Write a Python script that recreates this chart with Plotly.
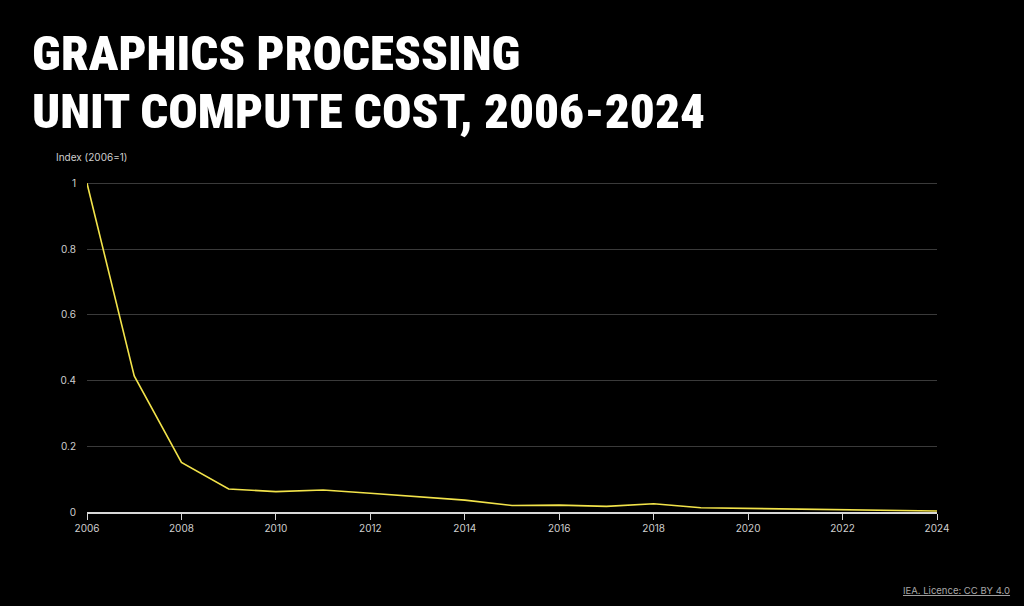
import plotly.graph_objects as go

years = list(range(2006, 2025))
index_values = [1.0, 0.414, 0.151, 0.070, 0.062, 0.067, 0.057, 0.047, 0.036, 0.020,
                0.021, 0.017, 0.025, 0.013, 0.011, 0.008, 0.007, 0.005, 0.003]
x_ticks = list(range(2006, 2025, 2))
y_ticks = [0, 0.2, 0.4, 0.6, 0.8, 1]
y_tick_labels = ["0", "0.2", "0.4", "0.6", "0.8", "1"]

title_line1 = "GRAPHICS PROCESSING"
title_line2 = "UNIT COMPUTE COST, 2006-2024"
axis_title = "Index (2006=1)"
source_text = "IEA. Licence: CC BY 4.0"

fig = go.Figure()
fig.add_trace(go.Scatter(
    x=years, y=index_values, mode="lines",
    line=dict(color="#f2e34a", width=1.6),
    hoverinfo="x+y", showlegend=False,
))

tick_font = dict(family="Inter, Roboto, sans-serif", size=10, color="#cfcfcf")
title_font = dict(family="Roboto Condensed, DejaVu Sans Condensed, sans-serif", size=49,
                  color="#ffffff", weight=900)

fig.update_layout(
    width=1024, height=606,
    paper_bgcolor="#000000", plot_bgcolor="#000000",
    margin=dict(l=87, r=87, t=180, b=94),
    xaxis=dict(
        range=[2006, 2024], tickvals=x_ticks, ticktext=[str(v) for v in x_ticks],
        showgrid=False, zeroline=False,
        showline=True, linecolor="#d8d8d8", linewidth=1.5,
        ticks="outside", ticklen=6, tickcolor="#d8d8d8", tickwidth=1,
        tickfont=tick_font, fixedrange=True,
    ),
    yaxis=dict(
        range=[0, 1.01], tickvals=y_ticks, ticktext=y_tick_labels,
        showgrid=True, gridcolor="#3a3a3a", gridwidth=1,
        zeroline=False, showline=False, ticks="",
        ticklabelstandoff=10,
        tickfont=tick_font, fixedrange=True,
    ),
    annotations=[
        dict(text=title_line1, xref="paper", yref="paper", x=-0.067, y=1.0, yshift=127,
             xanchor="left", yanchor="middle", showarrow=False, align="left",
             font=title_font),
        dict(text=title_line2, xref="paper", yref="paper", x=-0.067, y=1.0, yshift=69,
             xanchor="left", yanchor="middle", showarrow=False, align="left",
             font=title_font),
        dict(text=axis_title, xref="paper", yref="paper", x=-0.039, y=1.0, yshift=23,
             xanchor="left", yanchor="middle", showarrow=False,
             font=dict(family="Inter, Roboto, sans-serif", size=10, color="#cfcfcf")),
        dict(text="<u>" + source_text + "</u>", xref="paper", yref="paper", x=1.088, y=0,
             yshift=-78, xanchor="right", yanchor="middle", showarrow=False,
             font=dict(family="Inter, Roboto, sans-serif", size=9.5, color="#a8a8a8")),
    ],
)

fig.write_html("out.html", config={"displayModeBar": False},
               post_script="document.body.style.margin='0';document.body.style.background='#000';")
